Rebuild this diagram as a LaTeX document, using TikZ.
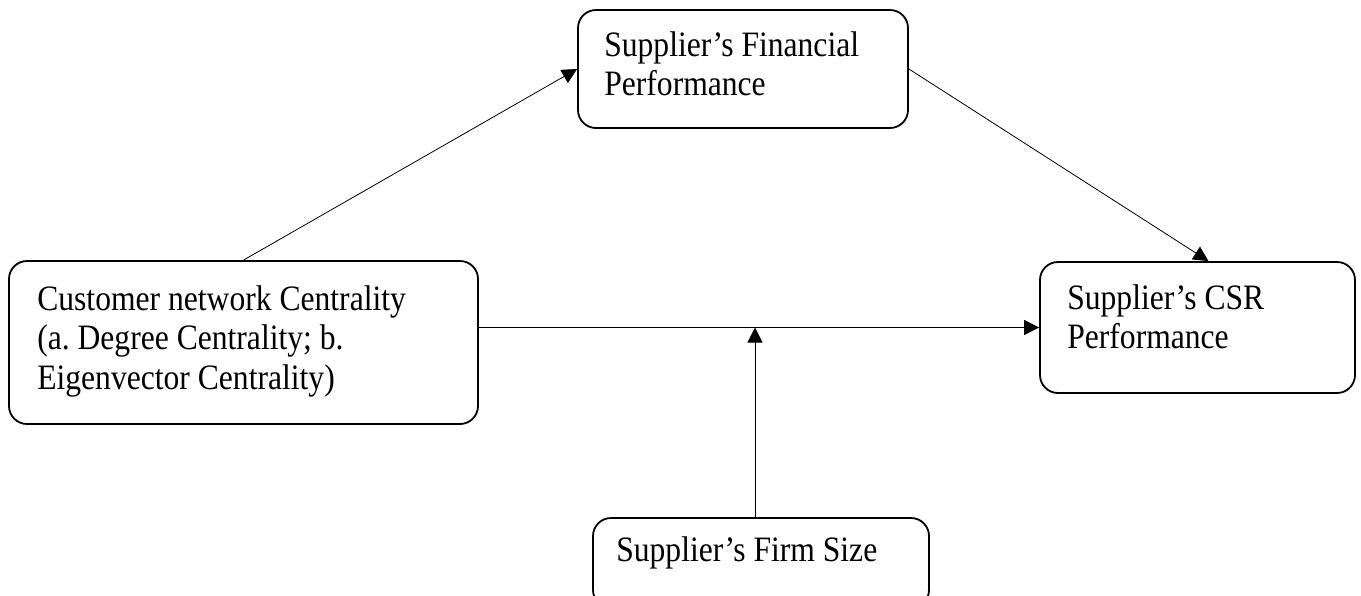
\documentclass[tikz,border=0pt]{standalone}
\usepackage{fontspec}
\setmainfont{Liberation Serif}
\frenchspacing
\usetikzlibrary{arrows.meta}
\newcommand{\vtext}[1]{\scalebox{1}[1.13]{\begin{tabular}[t]{@{}l@{}}#1\end{tabular}}}
\tikzset{blk/.style={draw, line width=1.8pt, rounded corners=18pt, inner sep=0pt},
	txt/.style={anchor=base west, inner sep=0pt, font=\fontsize{31.6}{35}\selectfont},
	arr/.style={-{Triangle[length=15pt,width=15pt]}, line width=0.8pt}}
\begin{document}
\begin{tikzpicture}[x=1pt, y=-1pt, line join=round]
		\useasboundingbox (0,0) rectangle (1361,595);
		\node[blk, minimum width=330pt, minimum height=118pt] (fin) at (743,69) {};
		\node[blk, minimum width=469pt, minimum height=163pt] (cent) at (243.5,342.5) {};
		\node[blk, minimum width=315pt, minimum height=131pt] (csr) at (1197.5,327.5) {};
		\node[blk, minimum width=336pt, minimum height=90pt] (size) at (761,563) {};
		\node[txt] (finT) at ([shift={(27,47)}]fin.north west) {\vtext{Supplier’s Financial\\Performance}};
		\node[txt] (centT) at ([shift={(29,50)}]cent.north west) {\vtext{Customer network Centrality\\(a. Degree Centrality; b.\\Eigenvector Centrality)}};
		\node[txt] (csrT) at ([shift={(28,48)}]csr.north west) {\vtext{Supplier’s CSR\\Performance}};
		\node[txt] (sizeT) at ([shift={(24,44)}]size.north west) {\vtext{Supplier’s Firm Size}};
		\coordinate (mod) at (755,327.5);
		\draw[arr] (cent.north)--(fin.west);
		\draw[arr] (fin.east)--([xshift=11pt]csr.north);
		\draw[arr] (cent.east |- csr.west)--(csr.west);
		\draw[arr] (mod |- size.north)--(mod);
\end{tikzpicture}
\end{document}
